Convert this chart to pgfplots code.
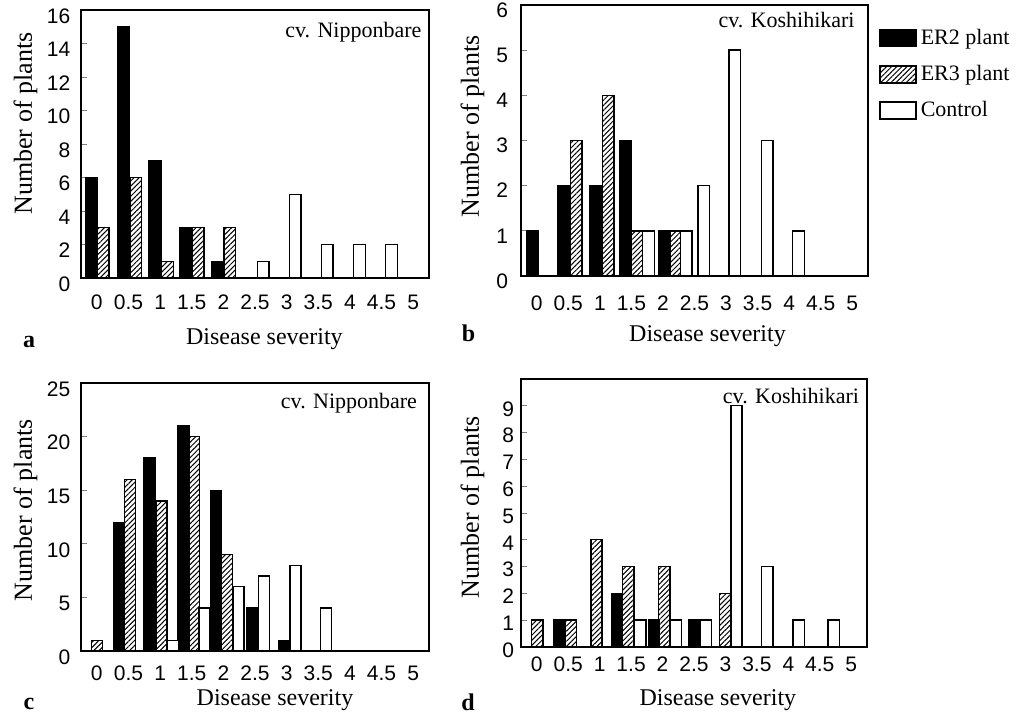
\documentclass[border=0pt]{standalone}
\usepackage{fontspec}
\setmainfont{Liberation Serif}
\setsansfont{Liberation Sans}
\usepackage{pgfplots}
\usepackage{pgfplotstable}
\pgfplotsset{compat=1.18}
\usetikzlibrary{patterns.meta}

% i = severity class (0 = 0, 1 = 0.5, ...), d* = where the bar sits in the class
\pgfplotstableread{
i  er2  d2     er3  d3    ctl  dc
0  6    -0.17  3    0.20  0    0
1  15   -0.16  6    0.23  0    0
2  7    -0.16  1    0.23  0    0
3  3    -0.18  3    0.20  0    0
4  1    -0.19  3    0.20  0    0
5  0    0      0    0     1    0.26
6  0    0      0    0     5    0.27
7  0    0      0    0     2    0.28
8  0    0      0    0     2    0.30
9  0    0      0    0     2    0.31
10 0    0      0    0     0    0
}\tabA
\pgfplotstableread{
i  er2  d2     er3  d3    ctl  dc
0  1    -0.14  0    0     0    0
1  2    -0.14  3    0.25  0    0
2  2    -0.13  4    0.26  0    0
3  3    -0.20  1    0.16  1    0.54
4  1    0.04   1    0.40  1    0.74
5  0    0      0    0     2    0.29
6  0    0      0    0     5    0.28
7  0    0      0    0     3    0.30
8  0    0      0    0     1    0.30
9  0    0      0    0     0    0
10 0    0      0    0     0    0
}\tabB
\pgfplotstableread{
i  er2  d2     er3  d3    ctl  dc
0  0    0      1    0.01  0    0
1  12   -0.30  16   0.05  0    0
2  18   -0.33  14   0.04  1    0.40
3  21   -0.26  20   0.07  4    0.40
4  15   -0.24  9    0.12  6    0.48
5  4    -0.08  0    0     7    0.29
6  1    -0.08  0    0     8    0.28
7  0    0      0    0     4    0.24
8  0    0      0    0     0    0
9  0    0      0    0     0    0
10 0    0      0    0     0    0
}\tabC
\pgfplotstableread{
i  er2  d2     er3  d3     ctl  dc
0  0    0      1    0.02   0    0
1  1    -0.28  1    0.09   0    0
2  0    0      4    -0.10  0    0
3  2    -0.45  3    -0.09  1    0.29
4  1    -0.27  3    0.06   1    0.43
5  1    0.00   0    0      1    0.38
6  0    0      2    0.00   9    0.35
7  0    0      0    0      3    0.33
8  0    0      0    0      1    0.33
9  0    0      0    0      1    0.44
10 0    0      0    0      0    0
}\tabD

\pgfplotsset{
  panel/.style={
    scale only axis, anchor=south west, clip=false,
    xmin=-0.5, xmax=10.5, ymin=0,
    xtick={0,...,10},
    xticklabels={0,0.5,1,1.5,2,2.5,3,3.5,4,4.5,5},
    xtick style={draw=none},
    ytick pos=left,
    ytick style={gray, line width=0.4pt},
    major tick length=3pt,
    tick label style={font=\sffamily\fontsize{10.5}{12}\selectfont},
    /pgf/number format/assume math mode=true,
    axis line style={line width=0.9pt},
    restrict y to domain=0.5:100,
    xlabel={Disease severity}, ylabel={Number of plants},
  },
  xlab/.style 2 args={every axis x label/.style={at={(rel axis cs:#1,#2)}, anchor=base, font=\fontsize{12}{14}\selectfont}},
  ylab/.style 2 args={every axis y label/.style={at={(rel axis cs:#1,#2)}, rotate=90, anchor=center, font=\fontsize{13}{15}\selectfont}},
  barbase/.style={ybar, bar shift=0pt, draw=black, line width=0.7pt,
    legend image code/.code={\draw[##1, line width=0.7pt] (0pt,-4.25pt) rectangle (18pt,4.25pt);}},
  er2/.style={barbase, fill=black},
  er3/.style={barbase, pattern={Lines[angle=45,distance=1.8pt,line width=0.5pt]}},
  ctl/.style={barbase, fill=white},
}
\newcommand{\cvlabel}[3]{\node[anchor=north east, inner sep=0pt, font=\fontsize{11}{13}\selectfont, xshift=#1, yshift=#2] at (rel axis cs:1,1) {#3};}
\newcommand{\panelletter}[3]{\node[anchor=base, font=\bfseries\fontsize{12}{14}\selectfont] at (rel axis cs:#1,#2) {#3};}

\begin{document}
\begin{tikzpicture}
\useasboundingbox (0,0) rectangle (512.5pt,359.5pt);

% a
\begin{axis}[panel, at={(40.5pt,220.5pt)}, width=174pt, height=134pt,
  ymax=16, ytick={0,2,...,16}, bar width=0.37,
  xticklabel style={yshift=-5pt}, yticklabel style={xshift=-1.8pt, yshift=-3pt},
  xlab={0.527}{-0.2463}, ylab={-0.1595}{0.576}]
\addplot[er2] table[x expr=\thisrow{i}+\thisrow{d2}, y=er2] {\tabA};
\addplot[er3] table[x expr=\thisrow{i}+\thisrow{d3}, y=er3] {\tabA};
\addplot[ctl] table[x expr=\thisrow{i}+\thisrow{dc}, y=ctl] {\tabA};
\cvlabel{-3.6pt}{-6pt}{cv. Nipponbare}
\panelletter{-0.1494}{-0.2575}{a}
\end{axis}

% b
\begin{axis}[panel, at={(260.5pt,221.5pt)}, width=173.5pt, height=135.5pt,
  ymax=6, ytick={0,...,6}, bar width=0.37,
  xticklabel style={yshift=-6.3pt}, yticklabel style={xshift=-3pt, yshift=-2.5pt},
  xlab={0.5375}{-0.2399}, ylab={-0.1398}{0.552},
  legend style={at={(rel axis cs:1.0317,1)}, anchor=north west, yshift=-9.8pt,
    draw=none, fill=none, inner sep=0pt, row sep=5pt,
    font=\fontsize{11}{13}\selectfont, nodes={inner sep=2pt}},
  legend cell align=left]
\addplot[er2] table[x expr=\thisrow{i}+\thisrow{d2}, y=er2] {\tabB};
\addlegendentry{ER2 plant}
\addplot[er3] table[x expr=\thisrow{i}+\thisrow{d3}, y=er3] {\tabB};
\addlegendentry{ER3 plant}
\addplot[ctl] table[x expr=\thisrow{i}+\thisrow{dc}, y=ctl] {\tabB};
\addlegendentry{Control}
\cvlabel{-6.5pt}{-3.4pt}{cv. Koshihikari}
\panelletter{-0.1513}{-0.2399}{b}
\end{axis}

% c
\begin{axis}[panel, at={(40.5pt,34pt)}, width=174pt, height=134pt,
  ymax=25, ytick={0,5,...,25}, bar width=0.35,
  xticklabel style={yshift=-3.8pt}, yticklabel style={xshift=-1.8pt, yshift=-3pt},
  xlab={0.5575}{-0.2052}, ylab={-0.1595}{0.526}]
\addplot[er2] table[x expr=\thisrow{i}+\thisrow{d2}, y=er2] {\tabC};
\addplot[er3] table[x expr=\thisrow{i}+\thisrow{d3}, y=er3] {\tabC};
\addplot[ctl] table[x expr=\thisrow{i}+\thisrow{dc}, y=ctl] {\tabC};
\cvlabel{-5.8pt}{-5pt}{cv. Nipponbare}
\panelletter{-0.1494}{-0.2201}{c}
\end{axis}

% d
\begin{axis}[panel, at={(260.5pt,36pt)}, width=173pt, height=134pt,
  ymax=10, ytick={0,...,9}, bar width=0.36,
  xticklabel style={yshift=-1.5pt}, yticklabel style={yshift=-1.5pt},
  xlab={0.569}{-0.220}, ylab={-0.1402}{0.522}]
\addplot[er2] table[x expr=\thisrow{i}+\thisrow{d2}, y=er2] {\tabD};
\addplot[er3] table[x expr=\thisrow{i}+\thisrow{d3}, y=er3] {\tabD};
\addplot[ctl] table[x expr=\thisrow{i}+\thisrow{dc}, y=ctl] {\tabD};
\cvlabel{-3.8pt}{-4.6pt}{cv. Koshihikari}
\panelletter{-0.1532}{-0.2351}{d}
\end{axis}
\end{tikzpicture}
\end{document}
